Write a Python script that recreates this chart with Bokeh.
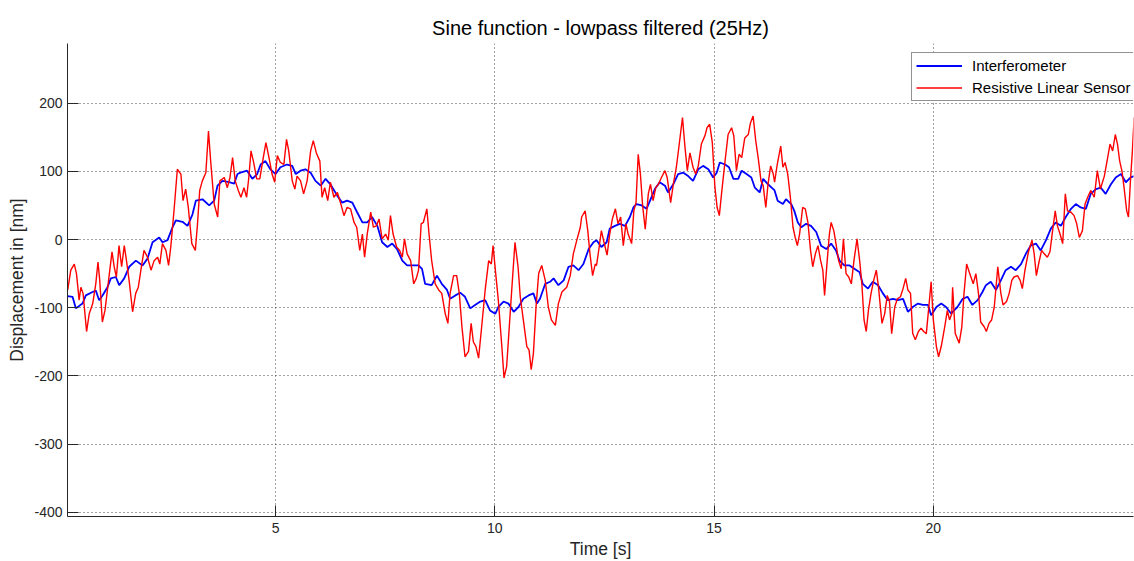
from bokeh.plotting import figure
from bokeh.models import Range1d, FixedTicker, Legend, LegendItem, CustomJSTickFormatter
from bokeh.embed import file_html
from bokeh.resources import INLINE

# ---- data ----
blue_t = [0.255, 0.37, 0.445, 0.597, 0.673, 0.825, 0.901, 0.977, 1.053, 1.167, 1.243, 1.357, 1.434, 1.548,
          1.662, 1.814, 1.966, 2.08, 2.194, 2.346, 2.422, 2.536, 2.65, 2.726, 2.878, 2.992, 3.106, 3.182,
          3.334, 3.486, 3.6, 3.676, 3.79, 3.942, 4.056, 4.132,
          4.20, 4.35, 4.47, 4.58, 4.66, 4.77, 4.88, 5.00, 5.11, 5.26, 5.38, 5.46, 5.57, 5.68, 5.80, 5.91,
          6.03, 6.14, 6.25, 6.41, 6.52, 6.63, 6.75, 6.86, 6.98, 7.09, 7.20, 7.32, 7.43, 7.55, 7.66, 7.77,
          7.89, 8.00, 8.12,
          8.26, 8.34, 8.41, 8.56, 8.68, 8.79, 8.91, 8.98, 9.10, 9.21, 9.32, 9.44, 9.55, 9.67, 9.78, 9.89,
          10.01, 10.08, 10.20, 10.31, 10.43, 10.54, 10.65, 10.77, 10.88, 10.96, 11.03, 11.15, 11.26, 11.34,
          11.45, 11.57, 11.68, 11.79, 11.91, 12.02, 12.14, 12.25,
          12.32, 12.43, 12.55, 12.62, 12.74, 12.85, 12.97, 13.08, 13.16, 13.23, 13.35, 13.46, 13.54, 13.65,
          13.76, 13.88, 13.95, 14.07, 14.18, 14.30, 14.41, 14.52, 14.64, 14.75, 14.87, 14.98, 15.06, 15.13,
          15.25, 15.34, 15.44, 15.55, 15.63, 15.74, 15.85, 15.93, 16.04, 16.12, 16.23, 16.35,
          16.38, 16.45, 16.57, 16.64, 16.76, 16.83, 16.91, 16.99, 17.10, 17.21, 17.33, 17.44, 17.56, 17.67,
          17.78, 17.86, 17.97, 18.09, 18.20, 18.32, 18.39, 18.51, 18.62, 18.74, 18.85, 18.96, 19.08, 19.19,
          19.31, 19.42, 19.53, 19.65, 19.76, 19.88, 19.95, 20.07, 20.18, 20.29, 20.41,
          20.44, 20.55, 20.67, 20.78, 20.89, 21.01, 21.12, 21.20, 21.31, 21.43, 21.54, 21.65, 21.77, 21.88,
          22.00, 22.11, 22.22, 22.34, 22.45, 22.57, 22.68, 22.79, 22.91, 23.02, 23.14, 23.25, 23.36, 23.48,
          23.59, 23.71, 23.82, 23.93, 24.05, 24.16, 24.28, 24.39, 24.50, 24.59]
blue_v = [-83, -84, -101, -94, -82, -77, -75, -89, -82, -70, -57, -55, -67, -57,
          -40, -31, -38, -28, -4, 3, -4, -1, 18, 28, 26, 20, 37, 57,
          59, 50, 57, 79, 86, 84, 82, 96,
          98, 101, 89, 96, 110, 115, 103, 96, 106, 110, 108, 96, 101, 103, 98, 86,
          79, 89, 81, 64, 54, 57, 54, 40, 25, 25, 33, 20, -4, -11, -6, -14,
          -31, -38, -38,
          -38, -43, -65, -67, -53, -65, -74, -87, -82, -78, -84, -101, -96, -91, -89, -104,
          -109, -99, -91, -94, -106, -99, -87, -82, -79, -94, -87, -65, -62, -57,
          -67, -60, -40, -38, -45, -36, -14, -4,
          -1, -11, -4, 16, 20, 23, 20, 33, 47, 52, 50, 45, 57, 74,
          84, 79, 69, 81, 96, 98, 93, 86, 103, 108, 103, 91, 98, 113,
          110, 106, 89, 89, 101, 96, 91, 76, 69, 89, 81, 74,
          72, 57, 52, 59, 52, 42, 25, 18, 23, 20, 11, -9, -14, -6,
          -16, -31, -38, -38, -43, -48, -65, -72, -62, -67, -79, -89, -87, -89,
          -87, -106, -99, -94, -96, -96, -111, -99, -94, -99, -109,
          -106, -99, -87, -84, -96, -89, -77, -67, -62, -74, -60, -45, -40, -45,
          -36, -21, -9, -6, -16, -1, 16, 25, 20, 33, 45, 52, 47, 45,
          67, 74, 76, 67, 81, 91, 96, 84, 91, 93]

red_t = [0.26, 0.33, 0.41, 0.46, 0.52, 0.56, 0.61, 0.69, 0.75, 0.83, 0.90, 0.95, 0.99, 1.05, 1.11, 1.21,
         1.27, 1.32, 1.37, 1.43, 1.49, 1.55, 1.60, 1.66, 1.74, 1.81, 1.87, 1.94, 2.00, 2.08, 2.16, 2.23,
         2.31, 2.36, 2.42, 2.50, 2.56, 2.61, 2.69, 2.76, 2.84, 2.89, 2.95, 3.01, 3.09, 3.17, 3.22, 3.27,
         3.33, 3.41, 3.47, 3.52, 3.60, 3.68, 3.73, 3.83, 3.90, 3.96, 4.02, 4.08, 4.15, 4.21,
         4.28, 4.34, 4.39, 4.44, 4.50, 4.57, 4.64, 4.72, 4.78, 4.85, 4.92, 4.98, 5.04, 5.11, 5.19, 5.25,
         5.30, 5.38, 5.44, 5.49, 5.57, 5.64, 5.72, 5.80, 5.86, 5.93, 6.01, 6.06, 6.12, 6.19, 6.25, 6.33,
         6.41, 6.48, 6.56, 6.63, 6.71, 6.79, 6.85, 6.92, 6.98, 7.03, 7.09, 7.17, 7.23, 7.30, 7.36, 7.43,
         7.51, 7.57, 7.62, 7.68, 7.76, 7.83, 7.89, 7.94, 8.00, 8.08, 8.15, 8.21,
         8.26, 8.32, 8.37, 8.45, 8.50, 8.56, 8.64, 8.72, 8.79, 8.87, 8.93, 8.98, 9.06, 9.13, 9.19, 9.25,
         9.32, 9.40, 9.46, 9.51, 9.57, 9.63, 9.70, 9.78, 9.86, 9.92, 9.96, 10.02, 10.08, 10.16, 10.21,
         10.27, 10.33, 10.39, 10.46, 10.53, 10.58, 10.65, 10.73, 10.78, 10.83, 10.88, 10.94, 11.00, 11.07,
         11.15, 11.22, 11.29, 11.38, 11.45, 11.53, 11.64, 11.72, 11.79, 11.87, 11.95, 11.98, 12.06, 12.12,
         12.17, 12.23, 12.29,
         12.32, 12.38, 12.43, 12.49, 12.56, 12.62, 12.68, 12.75, 12.81, 12.87, 12.93, 12.99, 13.04, 13.12,
         13.17, 13.22, 13.27, 13.32, 13.37, 13.43, 13.50, 13.55, 13.61, 13.67, 13.73, 13.80, 13.88, 13.93,
         14.01, 14.07, 14.14, 14.20, 14.28, 14.33, 14.39, 14.45, 14.52, 14.58, 14.64, 14.71, 14.79, 14.84,
         14.90, 14.96, 15.02, 15.07, 15.12, 15.17, 15.25, 15.32, 15.40, 15.45, 15.51, 15.57, 15.63, 15.70,
         15.78, 15.83, 15.89, 15.95, 16.01, 16.07, 16.12, 16.18, 16.23, 16.29, 16.35,
         16.38, 16.44, 16.52, 16.57, 16.62, 16.68, 16.74, 16.80, 16.85, 16.90, 16.95, 17.02, 17.08, 17.14,
         17.20, 17.25, 17.31, 17.37, 17.43, 17.48, 17.52, 17.58, 17.63, 17.67, 17.73, 17.78, 17.84, 17.90,
         17.95, 18.01, 18.07, 18.13, 18.19, 18.26, 18.32, 18.37, 18.42, 18.47, 18.52, 18.58, 18.64, 18.70,
         18.75, 18.80, 18.83, 18.89, 18.95, 19.00, 19.05, 19.12, 19.18, 19.25, 19.31, 19.37, 19.42, 19.48,
         19.53, 19.59, 19.66, 19.72, 19.78, 19.84, 19.89, 19.95, 20.00, 20.07, 20.12, 20.18, 20.26, 20.32,
         20.37, 20.42,
         20.44, 20.50, 20.59, 20.65, 20.70, 20.76, 20.83, 20.91, 20.97, 21.03, 21.08, 21.16, 21.21, 21.27,
         21.33, 21.39, 21.43, 21.47, 21.54, 21.59, 21.67, 21.73, 21.79, 21.84, 21.92, 21.98, 22.03, 22.09,
         22.17, 22.25, 22.30, 22.35, 22.41, 22.47, 22.53, 22.60, 22.66, 22.72, 22.78, 22.83, 22.89, 22.95,
         23.01, 23.06, 23.14, 23.21, 23.27, 23.33, 23.40, 23.46, 23.52, 23.59, 23.67, 23.74, 23.81, 23.90,
         23.97, 24.03, 24.09, 24.15, 24.20, 24.25, 24.30, 24.35, 24.41, 24.45, 24.50, 24.54, 24.58]
red_v = [-74, -45, -36, -50, -89, -70, -79, -135, -109, -94, -65, -33, -60, -121, -104, -50,
         -18, -40, -55, -9, -40, -9, -31, -60, -106, -79, -70, -40, -16, -26, -45, -31,
         -26, -36, -6, -16, -38, -11, 47, 103, 96, 57, 74, 47, -6, -16, 23, 72,
         86, 98, 159, 115, 52, 33, 86, 91, 76, 91, 120, 86, 72, 62,
         76, 62, 91, 130, 113, 89, 89, 120, 142, 120, 96, 84, 123, 113, 110, 147,
         130, 86, 74, 93, 86, 67, 86, 130, 145, 127, 115, 62, 76, 57, 84, 62,
         69, 54, 35, 47, 45, 25, 18, -16, 8, -26, 8, 40, 18, 20, 30, 1,
         8, -1, 35, 8, -11, -16, -26, 1, -21, -31, -65, -57,
         -45, 23, 25, 45, 8, -31, -65, -74, -79, -109, -123, -79, -53, -53, -79, -128,
         -172, -164, -123, -150, -157, -174, -128, -74, -31, -36, -9, -50, -89, -157, -203,
         -186, -128, -70, -4, -40, -84, -118, -157, -162, -191, -167, -99, -50, -38,
         -60, -99, -118, -126, -94, -77, -70, -53, -21, -1, 18, 33, 42, 13,
         -21, -53, -36,
         -38, -11, 13, -4, -23, 8, 30, 45, 23, 33, -9, 23, 8, -6,
         42, 54, 125, 96, 50, 15, 67, 81, 57, 76, 81, 91, 101, 91,
         54, 81, 106, 137, 179, 140, 101, 127, 106, 96, 108, 140, 152, 164,
         169, 142, 76, 47, 35, 67, 115, 154, 164, 152, 101, 125, 120, 149,
         154, 171, 181, 145, 118, 86, 79, 47, 81, 108, 96,
         84, 110, 137, 106, 113, 96, 62, 18, 3, -9, 8, 47, 45, 25,
         -16, -40, -21, -9, -31, -45, -82, -31, 8, 25, 13, -6, -31, -43,
         1, -50, -55, -65, -31, 1, -31, -65, -118, -135, -104, -79, -60, -45,
         -70, -104, -123, -109, -82, -91, -138, -99, -87, -84, -72, -57, -74, -79,
         -138, -147, -135, -130, -135, -138, -104, -62, -118, -157, -172, -157, -128, -104,
         -118, -109,
         -70, -138, -152, -128, -79, -36, -50, -65, -50, -79, -121, -128, -135, -123,
         -118, -99, -70, -40, -79, -96, -91, -79, -60, -55, -53, -60, -72, -45,
         -18, -1, -21, -53, -33, -16, -21, -26, -18, 13, 42, 20, 8, -6,
         67, 42, 40, 35, 23, 3, 13, 52, 62, 72, 62, 101, 74, 93,
         118, 140, 130, 154, 140, 115, 101, 76, 42, 33, 91, 130, 179]

x_ticks = [5, 10, 15, 20]
y_ticks = [-400, -300, -200, -100, 0, 100, 200]

FONT = "Liberation Sans"
INK = "#262626"

p = figure(width=1134, height=561, output_backend="svg", toolbar_location=None,
           x_range=Range1d(0.255, 24.565), y_range=Range1d(-406.3, 287.5),
           min_border_left=67, min_border_right=1, min_border_top=43, min_border_bottom=43,
           title="Sine function - lowpass filtered (25Hz)")
p.outline_line_color = None
p.background_fill_color = "white"
p.border_fill_color = "white"

p.title.align = "center"
p.title.text_font = FONT
p.title.text_font_size = "20px"
p.title.text_font_style = "normal"
p.title.text_color = "#000000"
p.title.standoff = 9

for ax in (p.xaxis[0], p.yaxis[0]):
    ax.axis_line_color = INK
    ax.axis_line_width = 1
    ax.major_tick_line_color = INK
    ax.major_tick_in = 11
    ax.major_tick_out = 0
    ax.minor_tick_line_color = None
    ax.major_label_text_font = FONT
    ax.major_label_text_font_size = "14px"
    ax.major_label_text_color = INK
    ax.axis_label_text_font = FONT
    ax.axis_label_text_font_size = "17.5px"
    ax.axis_label_text_font_style = "normal"
    ax.axis_label_text_color = INK

p.xaxis.ticker = FixedTicker(ticks=x_ticks)
p.yaxis.ticker = FixedTicker(ticks=y_ticks)
p.yaxis.formatter = CustomJSTickFormatter(code="return tick.toFixed(0);")
p.xaxis.axis_label = "Time [s]"
p.yaxis.axis_label = "Displacement in [nm]"
p.xaxis.major_label_standoff = 6
p.yaxis.major_label_standoff = 5
p.xaxis.axis_label_standoff = 3
p.yaxis.axis_label_standoff = 4

for g in (p.xgrid[0], p.ygrid[0]):
    g.grid_line_color = "#303030"
    g.grid_line_dash = "1 3"
    g.grid_line_width = 1
    g.grid_line_alpha = 0.9

r_blue = p.line(blue_t, blue_v, line_color="#0000FF", line_width=1.8)
r_red = p.line(red_t, red_v, line_color="#FF0000", line_width=1.4)

legend = Legend(items=[LegendItem(label="Interferometer", renderers=[r_blue]),
                       LegendItem(label="Resistive Linear Sensor", renderers=[r_red])],
                location=(844, 415), margin=0, padding=4, spacing=5,
                label_height=17, glyph_height=17, glyph_width=46, label_standoff=10,
                label_text_font=FONT, label_text_font_size="15px", label_text_color="#000000",
                border_line_color=INK, border_line_width=1,
                background_fill_color="white", background_fill_alpha=1)
p.add_layout(legend)

open("out.html", "w").write(file_html(p, INLINE))
